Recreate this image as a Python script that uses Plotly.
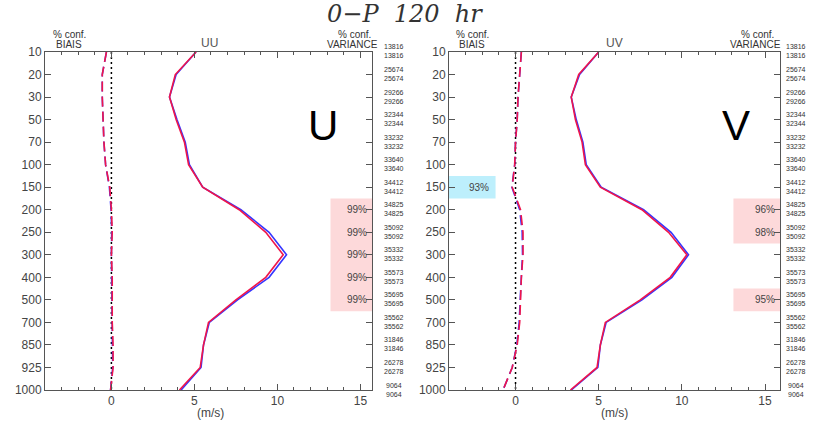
import plotly.graph_objects as go

levels = [10, 20, 30, 50, 70, 100, 150, 200, 250, 300, 400, 500, 700, 850, 925, 1000]
counts = [13816, 25674, 29266, 32344, 33232, 33640, 34412, 34825, 35092, 35332,
          35573, 35695, 35562, 31846, 26278, 9064]

uu_red = [5.1, 3.85, 3.5, 3.9, 4.4, 4.65, 5.5, 7.7, 9.3, 10.35, 9.3, 7.5, 5.85, 5.55, 5.35, 4.1]
uu_blue = [5.1, 3.9, 3.5, 3.95, 4.45, 4.7, 5.5, 7.8, 9.5, 10.55, 9.5, 7.6, 5.9, 5.55, 5.4, 4.2]
bu_red = [-0.3, -0.55, -0.55, -0.5, -0.45, -0.35, -0.1, 0.0, 0.05, 0.0, 0.05, 0.05, 0.05, 0.1, 0.1, -0.05]
bu_blue = [-0.3, -0.55, -0.55, -0.5, -0.45, -0.35, -0.12, -0.02, 0.02, 0.0, 0.02, 0.02, 0.03, 0.08, 0.08, -0.05]

uv_red = [5.0, 3.8, 3.35, 3.6, 4.0, 4.2, 5.1, 7.6, 9.2, 10.3, 9.3, 7.5, 5.4, 5.1, 4.9, 3.3]
uv_blue = [5.0, 3.85, 3.35, 3.65, 4.05, 4.25, 5.15, 7.7, 9.35, 10.4, 9.4, 7.6, 5.45, 5.1, 4.95, 3.35]
bv_red = [0.35, 0.25, 0.15, 0.1, 0.0, -0.05, -0.2, 0.3, 0.45, 0.45, 0.35, 0.3, 0.25, 0.1, -0.2, -0.75]
bv_blue = [0.35, 0.25, 0.15, 0.1, 0.0, -0.05, -0.22, 0.25, 0.4, 0.42, 0.33, 0.28, 0.22, 0.08, -0.2, -0.75]

left_sig = [(7, "99%"), (8, "99%"), (9, "99%"), (10, "99%"), (11, "99%")]
right_sig = [(7, "96%"), (8, "98%"), (11, "95%")]
right_bias_sig = [(6, "93%")]

RED = "#f0154a"
BLUE = "#3535ff"
FONT = "Liberation Sans, Arial, sans-serif"
GRAY = "#444444"

W, H = 825, 426
def px(x):
    return x / W
def py(y):
    return 1 - y / H

idx = list(range(len(levels)))
fig = go.Figure()

panels = [
    ("x", "y", uu_red, uu_blue, bu_red, bu_blue),
    ("x2", "y2", uv_red, uv_blue, bv_red, bv_blue),
]
for xa, ya, vr, vb, br, bb in panels:
    fig.add_trace(go.Scatter(x=[0]*len(idx), y=idx, xaxis=xa, yaxis=ya, mode="lines",
                             line=dict(color="black", width=1.5, dash="2px,3px"), showlegend=False))
    fig.add_trace(go.Scatter(x=bb, y=idx, xaxis=xa, yaxis=ya, mode="lines",
                             line=dict(color=BLUE, width=1.6, dash="10px,5px"), showlegend=False))
    fig.add_trace(go.Scatter(x=br, y=idx, xaxis=xa, yaxis=ya, mode="lines",
                             line=dict(color=RED, width=1.6, dash="10px,5px"), showlegend=False))
    fig.add_trace(go.Scatter(x=vb, y=idx, xaxis=xa, yaxis=ya, mode="lines",
                             line=dict(color=BLUE, width=1.6), showlegend=False))
    fig.add_trace(go.Scatter(x=vr, y=idx, xaxis=xa, yaxis=ya, mode="lines",
                             line=dict(color=RED, width=1.6), showlegend=False))

def xaxis_cfg(domain, rng, anchor):
    return dict(domain=domain, range=rng, tickvals=[0, 5, 10, 15], ticks="inside", ticklen=6,
                tickcolor="#555", showline=True, linecolor="#555", linewidth=1, mirror="ticks",
                showgrid=False, zeroline=False, tickfont=dict(family=FONT, size=12, color=GRAY),
                automargin=False, anchor=anchor,
                minor=dict(dtick=1, ticks="inside", ticklen=3, tickcolor="#555", showgrid=False))

def yaxis_cfg(anchor):
    return dict(domain=[py(390), py(52)], range=[15, 0], tickvals=idx,
                ticktext=[str(l) for l in levels], ticks="inside", ticklen=6, tickcolor="#555",
                showline=True, linecolor="#555", linewidth=1, mirror="ticks", showgrid=False,
                zeroline=False, anchor=anchor, automargin=False,
                tickfont=dict(family=FONT, size=12, color=GRAY))

fig.update_layout(
    width=W, height=H, margin=dict(l=0, r=0, t=0, b=0, autoexpand=False),
    paper_bgcolor="white", plot_bgcolor="rgba(0,0,0,0)",
    xaxis=xaxis_cfg([px(45), px(372)], [-4, 15.7], "y"),
    yaxis=yaxis_cfg("x"),
    xaxis2=xaxis_cfg([px(449), px(780)], [-4, 15.9], "y2"),
    yaxis2=yaxis_cfg("x2"),
)

shapes = []
anns = []
PINK = "#fdd9da"
LBLUE = "#bdeffc"

def add_band(xr, yr, x0, x1, rows, color):
    shapes.append(dict(type="rect", xref=xr, yref=yr, x0=x0, x1=x1, y0=rows[0]-0.5, y1=rows[-1]+0.5,
                       fillcolor=color, line=dict(width=0), layer="below"))

add_band("x", "y", 13.2, 15.7, [7, 11], PINK)
add_band("x2", "y2", 13.1, 15.9, [7, 8], PINK)
add_band("x2", "y2", 13.1, 15.9, [11, 11], PINK)
add_band("x2", "y2", -4, -1.2, [6, 6], LBLUE)
fig.update_layout(shapes=shapes)

for i, t in left_sig:
    anns.append(dict(xref="x", yref="y", x=15.7, y=i, text=t, showarrow=False, xanchor="right",
                     yanchor="middle", xshift=-3, font=dict(family=FONT, size=10, color=GRAY)))
for i, t in right_sig:
    anns.append(dict(xref="x2", yref="y2", x=15.9, y=i, text=t, showarrow=False, xanchor="right",
                     yanchor="middle", xshift=-3, font=dict(family=FONT, size=10, color=GRAY)))
for i, t in right_bias_sig:
    anns.append(dict(xref="x2", yref="y2", x=-1.5, y=i, text=t, showarrow=False, xanchor="right",
                     yanchor="middle", font=dict(family=FONT, size=10, color=GRAY)))

def ptext(x, y, text, size, color="#333", family=FONT):
    anns.append(dict(xref="paper", yref="paper", x=px(x), y=py(y), text=text, showarrow=False,
                     xanchor="center", yanchor="middle", font=dict(family=family, size=size, color=color)))

# counts on right of each panel
for xr_px in (394, 796):
    for i, c in enumerate(counts):
        for dy in (-5, 4):
            anns.append(dict(xref="paper", yref="y", x=px(xr_px), y=i, yshift=-dy, text=str(c),
                             showarrow=False, xanchor="center", yanchor="middle",
                             font=dict(family=FONT, size=7, color="#333")))

# headers
for cx, lab, vx in ((69, "UU", 210), (472, "UV", 614)):
    ptext(cx, 34, "% conf.", 10)
    ptext(cx, 44, "BIAIS", 10)
    ptext(vx, 43, lab, 12, "#555")
for cx in (352, 755):
    ptext(cx + 2, 34, "% conf.", 10)
    ptext(cx, 44, "VARIANCE", 10)

for cx in (211, 614):
    ptext(cx, 413, "(m/s)", 12, GRAY)

ptext(405, 14, "<i>0\u2212P  120  hr</i>", 24, "#333", "DejaVu Serif, serif")
ptext(323, 125, "U", 42, "black")
ptext(736, 125, "V", 42, "black")

fig.update_layout(annotations=anns)
fig.write_html("out.html")
